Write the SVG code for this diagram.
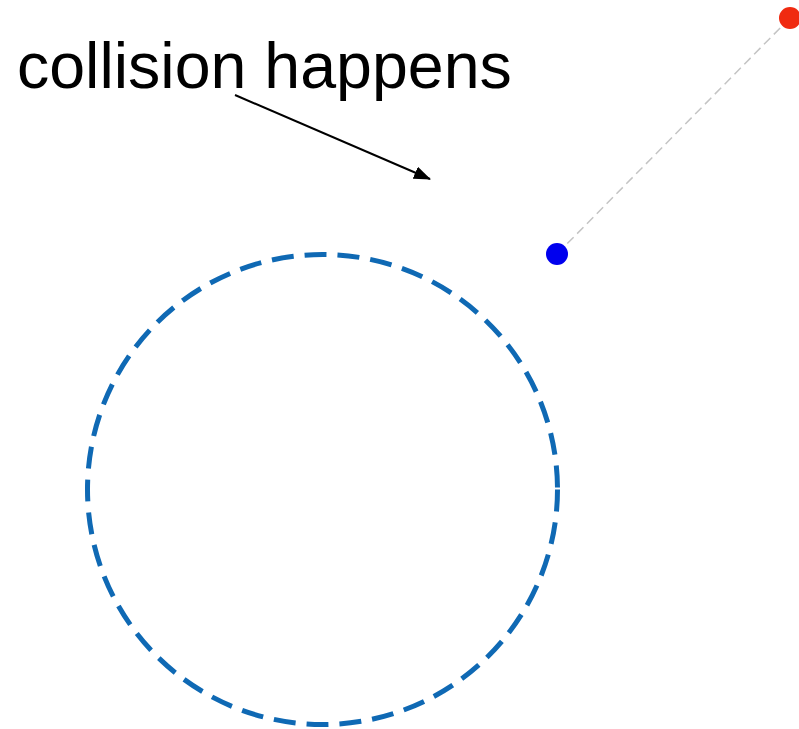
<svg xmlns="http://www.w3.org/2000/svg" width="799" height="729" viewBox="0 0 799 729">
<style>
.lbl{font-family:"Liberation Sans",Arial,sans-serif;font-size:64.5px;fill:#000}
.arrow{stroke:#000;stroke-width:2;fill:none}
.orbit{fill:none;stroke:#0f69b4;stroke-width:5;stroke-dasharray:22 11}
.trail{stroke:#c4c4c4;stroke-width:1.5;stroke-dasharray:9 5}
</style>
<defs>
<marker id="ah" markerWidth="17" markerHeight="13" refX="16" refY="6.5" orient="auto" markerUnits="userSpaceOnUse" viewBox="0 0 17 13">
<path d="M0,0 L17,6.5 L0,13 z" fill="#000"/>
</marker>
</defs>
<rect width="799" height="729" fill="#fff"/>
<g id="label"><text class="lbl" x="17" y="88">collision happens</text></g>
<g id="orbit"><circle class="orbit" cx="322.5" cy="489.5" r="235"/></g>
<g id="connectors">
<line class="arrow" x1="235" y1="95" x2="430" y2="179" marker-end="url(#ah)"/>
<line class="trail" x1="790" y1="18" x2="557" y2="254"/>
</g>
<g id="red"><circle cx="790" cy="18" r="11" fill="#f02a10"/></g>
<g id="blue"><circle cx="557" cy="254" r="11" fill="#0000ee"/></g>
</svg>
